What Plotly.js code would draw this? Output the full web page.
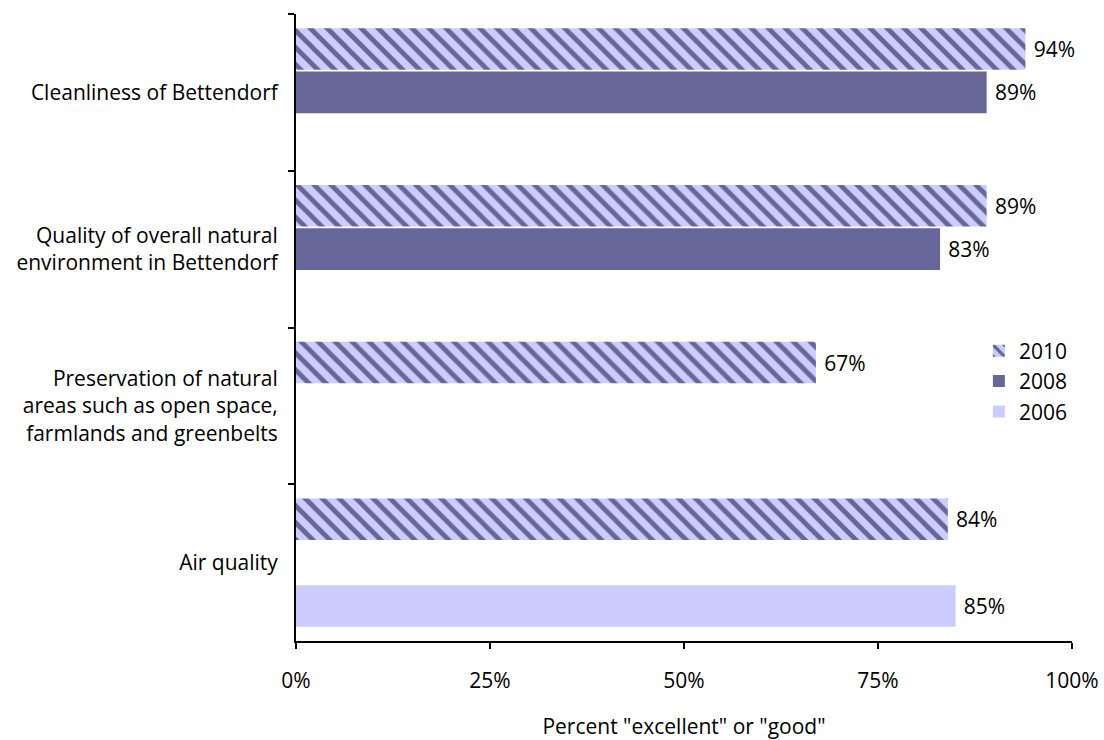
<!DOCTYPE html>
<html>
<head>
<meta charset="utf-8">
<script src="https://cdn.plot.ly/plotly-3.0.1.min.js"></script>
<style>html,body{margin:0;padding:0;background:#fff}#chart{width:1104px;height:740px}</style>
</head>
<body>
<div id="chart"></div>
<script>
var categories = [
  "Cleanliness of Bettendorf",
  "Quality of overall natural<br>environment in Bettendorf",
  "Preservation of natural<br>areas such as open space,<br>farmlands and greenbelts",
  "Air quality"
];
var seriesNames = ["2010", "2008", "2006"];
var values2010 = [0.94, 0.89, 0.67, 0.84];
var values2008 = [0.89, 0.83, null, null];
var values2006 = [null, null, null, 0.85];
var xTickVals = [0, 0.25, 0.5, 0.75, 1];
var xTickText = ["0%", "25%", "50%", "75%", "100%"];

var FONT = "'Open Sans', Lato, sans-serif";
var FS = 21;
var DARK = "#666699";
var LIGHT = "#ccccff";

function labels(arr) {
  return arr.map(function (v) { return v == null ? "" : "\u2005" + Math.round(v * 100) + "%"; });
}

var common = {
  type: "bar",
  orientation: "h",
  y: categories,
  textposition: "outside",
  cliponaxis: false,
  textfont: {family: FONT, size: FS, color: "#000"},
  hoverinfo: "skip"
};

var traces = [
  Object.assign({}, common, {
    name: seriesNames[0], x: values2010, text: labels(values2010),
    marker: {color: DARK, pattern: {shape: "\\", fgcolor: DARK, bgcolor: LIGHT, size: 12, solidity: 0.4, fillmode: "replace"}, line: {width: 0}}
  }),
  Object.assign({}, common, {
    name: seriesNames[1], x: values2008, text: labels(values2008),
    marker: {color: DARK, line: {width: 0}}
  }),
  Object.assign({}, common, {
    name: seriesNames[2], x: values2006, text: labels(values2006),
    marker: {color: LIGHT, line: {width: 0}}
  })
];

var layout = {
  width: 1104, height: 740,
  margin: {l: 296, r: 32, t: 14, b: 99},
  paper_bgcolor: "#fff", plot_bgcolor: "#fff",
  barmode: "group",
  bargap: 0.17,
  bargroupgap: 0.04,
  font: {family: FONT, size: FS, color: "#000"},
  showlegend: true,
  legend: {x: 0.88, y: 0.495, xanchor: "left", yanchor: "top", traceorder: "normal",
           font: {family: FONT, size: FS, color: "#000"}, bgcolor: "rgba(0,0,0,0)", itemwidth: 30,
           tracegroupgap: 0},
  xaxis: {
    range: [0, 1], tickvals: xTickVals, ticktext: xTickText,
    showgrid: false, zeroline: false,
    showline: true, linecolor: "#000", linewidth: 2,
    ticks: "outside", ticklen: 6, tickwidth: 2, tickcolor: "#000",
    ticklabelstandoff: 14,
    tickfont: {family: FONT, size: FS, color: "#000"},
    title: {text: "Percent \"excellent\" or \"good\"", font: {family: FONT, size: FS, color: "#000"}, standoff: 26},
    fixedrange: true
  },
  yaxis: {
    type: "category",
    autorange: "reversed",
    tickson: "boundaries",
    showgrid: false, zeroline: false,
    showline: true, linecolor: "#000", linewidth: 2,
    ticks: "outside", ticklen: 6, tickwidth: 2, tickcolor: "#000",
    tickfont: {family: FONT, size: FS, color: "#000"},
    ticklabelstandoff: 12,
    fixedrange: true
  }
};

Plotly.newPlot("chart", traces, layout, {displayModeBar: false, staticPlot: true});
</script>
</body>
</html>
